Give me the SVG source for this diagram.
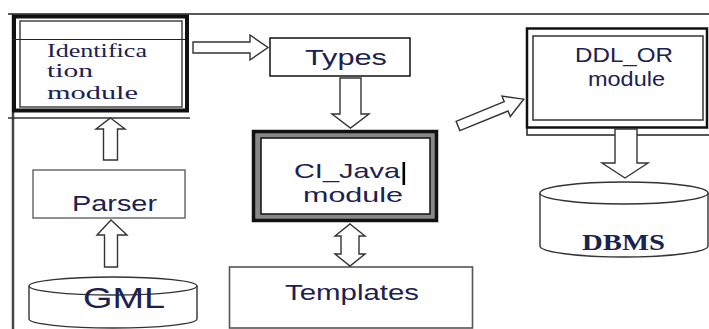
<svg xmlns="http://www.w3.org/2000/svg" width="709" height="329" viewBox="0 0 709 329">
  <style>
    .frame { fill: none; stroke: #222; stroke-width: 1.5; }
    .arrow { fill: #fff; stroke: #333; stroke-width: 1.4; stroke-linejoin: miter; }
    .cyl { fill: #fff; stroke: #333; stroke-width: 1.4; }
    .sans { font-family: "Liberation Sans", Arial, sans-serif; fill: #1b2150; }
    .serif { font-family: "Liberation Serif", "Times New Roman", serif; fill: #1b2150; }
  </style>

  <rect width="709" height="329" fill="#fff"/>

  <!-- page frame lines -->
  <g id="frame">
    <line class="frame" x1="8" y1="14" x2="709" y2="14"/>
    <line x1="13" y1="14" x2="13" y2="329" stroke="#444" stroke-width="2.5"/>
  </g>

  <!-- Identification module -->
  <g id="identification">
    <rect x="14" y="16.5" width="173" height="94" fill="#fff" stroke="#111" stroke-width="4"/>
    <rect x="20" y="21" width="162" height="86" fill="#fff" stroke="#444" stroke-width="1.5"/>
    <line x1="12" y1="39.5" x2="185" y2="39.5" stroke="#222" stroke-width="1.2"/>
    <line x1="8" y1="118" x2="190" y2="118" stroke="#333" stroke-width="1.5"/>
    <text class="serif" font-size="18" x="47" y="57" textLength="100" lengthAdjust="spacingAndGlyphs">Identifica</text>
    <text class="serif" font-size="18" x="47" y="77" textLength="46" lengthAdjust="spacingAndGlyphs">tion</text>
    <text class="serif" font-size="18" x="47" y="99" textLength="91" lengthAdjust="spacingAndGlyphs">module</text>
  </g>

  <!-- Types -->
  <g id="types">
    <rect x="270" y="38" width="140" height="38" fill="#fff" stroke="#111" stroke-width="1.5"/>
    <text class="sans" font-size="22" x="305" y="65" textLength="82" lengthAdjust="spacingAndGlyphs">Types</text>
  </g>

  <!-- CI_Java module -->
  <g id="ci-java">
    <rect x="253.5" y="131.5" width="183" height="89" fill="#888" stroke="#111" stroke-width="3.5"/>
    <rect x="261" y="138" width="169" height="76" fill="#fff" stroke="#111" stroke-width="1.5"/>
    <text class="sans" font-size="21" x="294" y="178" textLength="106" lengthAdjust="spacingAndGlyphs">CI_Java</text>
    <rect x="402.5" y="162" width="2.6" height="23" fill="#000"/>
    <text class="sans" font-size="21" x="303" y="202" textLength="100" lengthAdjust="spacingAndGlyphs">module</text>
  </g>

  <!-- DDL_OR module -->
  <g id="ddl-or">
    <rect x="527" y="28.5" width="180" height="99" fill="#fff" stroke="#111" stroke-width="2.5"/>
    <rect x="533" y="36" width="170" height="84" fill="#fff" stroke="#333" stroke-width="1.5"/>
    <polyline points="527,128 527,135 709,135" fill="none" stroke="#222" stroke-width="1.5"/>
    <text class="sans" font-size="21" x="575" y="62" textLength="98" lengthAdjust="spacingAndGlyphs" fill="#2a3d78">DDL_OR</text>
    <text class="sans" font-size="21" x="588" y="86" textLength="77" lengthAdjust="spacingAndGlyphs" fill="#2a3d78">module</text>
  </g>

  <!-- Parser -->
  <g id="parser">
    <rect x="33" y="170" width="152" height="48" fill="#fff" stroke="#555" stroke-width="1.3"/>
    <text class="sans" font-size="22" x="72" y="211" textLength="85" lengthAdjust="spacingAndGlyphs">Parser</text>
  </g>

  <!-- GML store -->
  <g id="gml">
    <path class="cyl" d="M29,286 L29,319 A84,9 0 0 0 197,319 L197,286"/>
    <ellipse class="cyl" cx="113" cy="286" rx="84" ry="9"/>
    <text class="sans" font-size="29" x="83" y="308" textLength="82" lengthAdjust="spacingAndGlyphs">GML</text>
  </g>

  <!-- Templates -->
  <g id="templates">
    <rect x="229.5" y="267" width="243" height="61" fill="#fff" stroke="#555" stroke-width="1.6"/>
    <text class="sans" font-size="22" x="285" y="300" textLength="134" lengthAdjust="spacingAndGlyphs">Templates</text>
  </g>

  <!-- DBMS store -->
  <g id="dbms">
    <path class="cyl" d="M540,193 L540,246 A84,11 0 0 0 708,246 L708,193"/>
    <ellipse class="cyl" cx="624" cy="193" rx="84" ry="11"/>
    <text class="serif" font-size="23" font-weight="bold" x="582" y="250" textLength="83" lengthAdjust="spacingAndGlyphs">DBMS</text>
  </g>

  <!-- block arrows between modules -->
  <g id="connectors">
    <polygon class="arrow" points="193,42 250,42 250,35 268,47.5 250,60 250,53 193,53"/>
    <polygon class="arrow" points="340,78 361,78 361,114 369,114 350.5,128 332,114 340,114"/>
    <polygon class="arrow" transform="translate(458,126) rotate(-22.2)" points="0,-5 52,-5 52,-11 71,0 52,11 52,5 0,5"/>
    <polygon class="arrow" points="615,129 637,129 637,163 648,163 625,178 602,163 615,163"/>
    <polygon class="arrow" points="350,224 365,236 359,236 359,254 365,254 350,266 335,254 341,254 341,236 335,236"/>
    <polygon class="arrow" points="110.5,118 125,129 117.5,129 117.5,160 103.5,160 103.5,129 96,129"/>
    <polygon class="arrow" points="111,220 127,235 117.5,235 117.5,267 104.5,267 104.5,235 97,235"/>
  </g>
</svg>
